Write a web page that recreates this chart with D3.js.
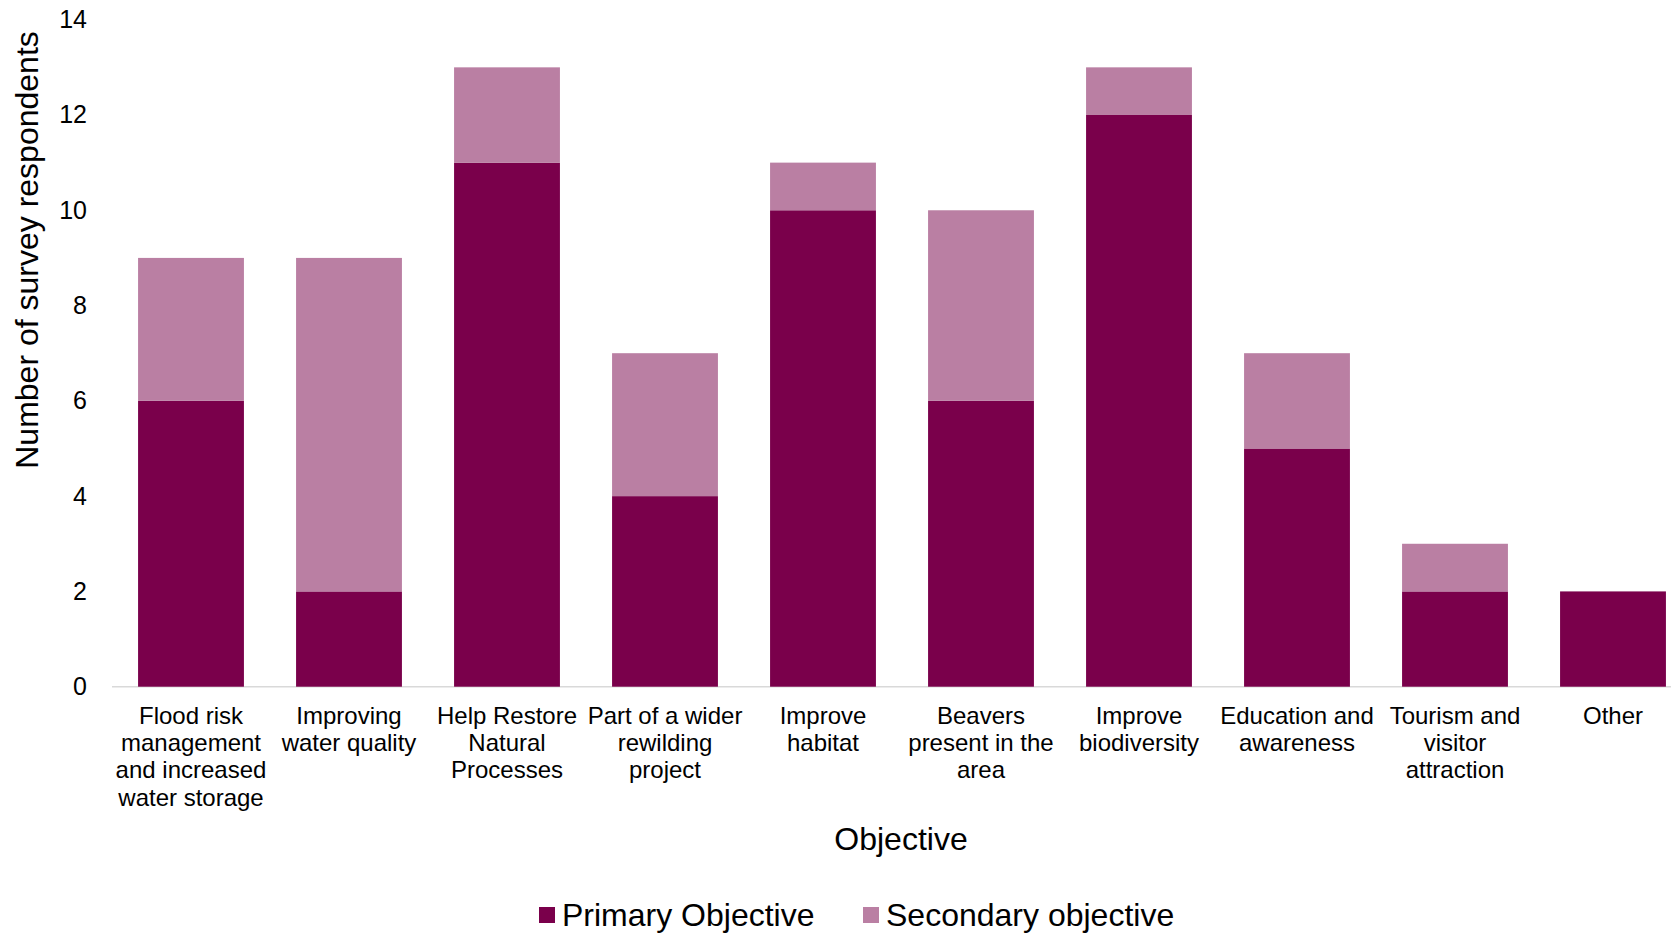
<!DOCTYPE html>
<html>
  <head>
    <title>Objectives</title>
    <script src="https://d3js.org/d3.v7.min.js"></script>
    <style>
      body { margin: 0; background: white; }
      text { font-family: "Liberation Sans", Arial, sans-serif; fill: #000; }
    </style>
  </head>
  <body>
    <script>
      let width = 1671, height = 934;

      // categories (line breaks as in the picture)
      let categories = [
        "Flood risk\nmanagement\nand increased\nwater storage",
        "Improving\nwater quality",
        "Help Restore\nNatural\nProcesses",
        "Part of a wider\nrewilding\nproject",
        "Improve\nhabitat",
        "Beavers\npresent in the\narea",
        "Improve\nbiodiversity",
        "Education and\nawareness",
        "Tourism and\nvisitor\nattraction",
        "Other"
      ];
      let primary   = [6, 2, 11, 4, 10, 6, 12, 5, 2, 2];
      let secondary = [3, 7, 2, 3, 1, 4, 1, 2, 1, 0];
      let seriesNames = ["Primary Objective", "Secondary objective"];
      let yTicks = [0, 2, 4, 6, 8, 10, 12, 14];

      let colors = ["#7A004B", "#BA7FA3"];

      let svg = d3.select("body").append("svg")
                  .attr("width", width)
                  .attr("height", height);

      let x = d3.scaleBand().domain(categories).range([112, 1692]).paddingInner(0.33).paddingOuter(0.165);
      let y = d3.scaleLinear().domain([0, 14]).range([686.7, 19.7]);

      let rows = categories.map(function(c, i) {
        return { cat: c, primary: primary[i], secondary: secondary[i] };
      });
      let stacked = d3.stack().keys(["primary", "secondary"])(rows);

      // axis line
      svg.append("line")
         .attr("x1", 112).attr("x2", width)
         .attr("y1", y(0)).attr("y2", y(0))
         .attr("stroke", "#D9D9D9").attr("stroke-width", 1.5);

      // bars
      svg.selectAll("g.series").data(stacked)
         .enter().append("g").attr("class", "series")
         .attr("fill", function(d, i) { return colors[i]; })
         .selectAll("rect").data(function(d) { return d; })
         .enter().append("rect")
         .attr("x", function(d) { return x(d.data.cat); })
         .attr("width", x.bandwidth())
         .attr("y", function(d) { return y(d[1]); })
         .attr("height", function(d) { return y(d[0]) - y(d[1]); });

      // y tick labels
      let yAxis = d3.axisLeft(y).tickValues(yTicks).tickSize(0).tickPadding(0);
      let yg = svg.append("g").attr("transform", "translate(87,0)").call(yAxis);
      yg.select(".domain").remove();
      yg.selectAll("text")
        .style("font-family", "Liberation Sans, Arial, sans-serif")
        .style("font-size", "25px").attr("fill", "#000");

      // x category labels
      let xLabels = svg.append("g").selectAll("text").data(categories)
         .enter().append("text")
         .attr("text-anchor", "middle")
         .style("font-size", "24px")
         .attr("transform", function(d) {
           return "translate(" + (x(d) + x.bandwidth() / 2) + "," + (y(0) + 37) + ")";
         });
      xLabels.selectAll("tspan").data(function(d) { return d.split("\n"); })
         .enter().append("tspan")
         .attr("x", 0)
         .attr("y", function(d, i) { return i * 27.3; })
         .text(function(d) { return d; });

      // axis titles
      svg.append("text")
         .attr("text-anchor", "middle")
         .attr("transform", "translate(38,250) rotate(-90)")
         .style("font-size", "32px")
         .text("Number of survey respondents");

      svg.append("text")
         .attr("text-anchor", "middle")
         .attr("x", 901).attr("y", 850)
         .style("font-size", "32px")
         .text("Objective");

      // legend
      let legendX = [539, 863];
      let legend = svg.append("g").selectAll("g").data(seriesNames)
         .enter().append("g")
         .attr("transform", function(d, i) { return "translate(" + legendX[i] + ",907)"; });
      legend.append("rect")
         .attr("width", 16).attr("height", 16)
         .attr("fill", function(d, i) { return colors[i]; });
      legend.append("text")
         .attr("x", 23).attr("y", 19)
         .style("font-size", "32px")
         .text(function(d) { return d; });
    </script>
  </body>
</html>
